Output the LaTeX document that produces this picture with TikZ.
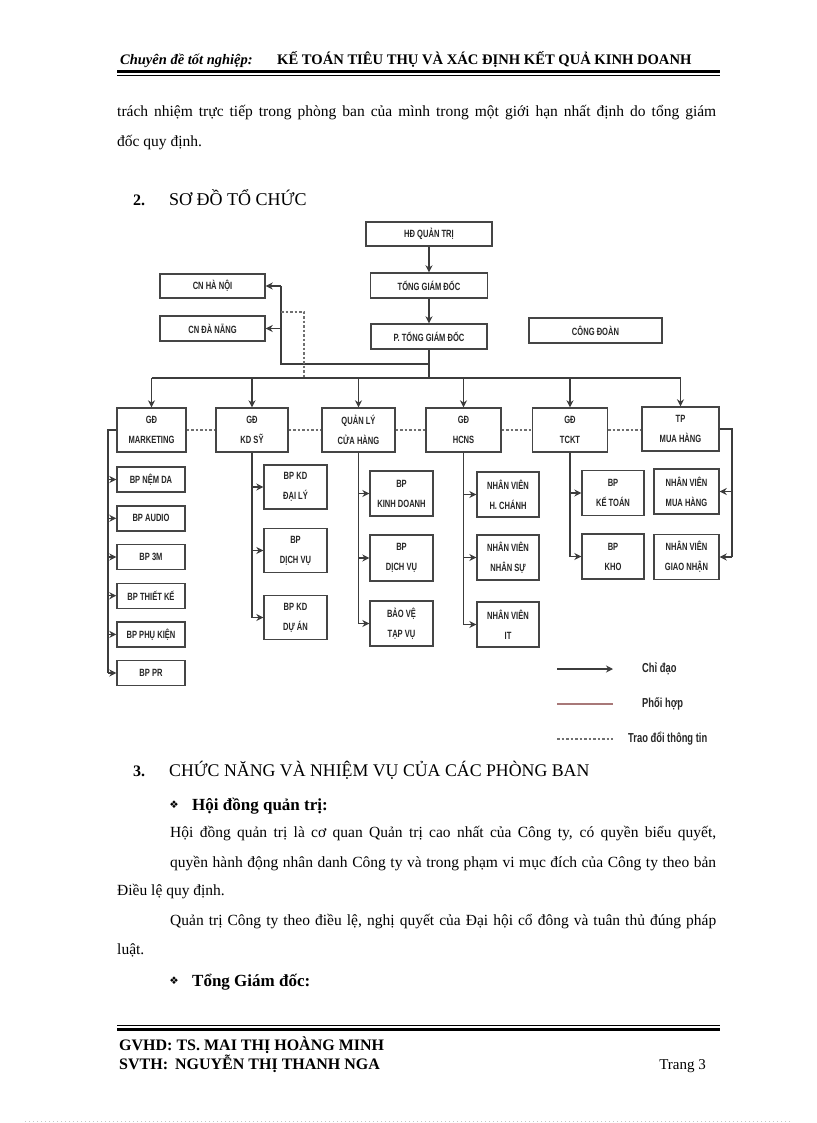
\documentclass[tikz,border=0pt]{standalone}
\usepackage{fontspec}
\setmainfont{Liberation Serif}
\newfontfamily\cf[FakeStretch=0.72]{Liberation Sans}
\newfontfamily\dv{DejaVu Sans}
\usetikzlibrary{arrows.meta}
\definecolor{ln}{HTML}{3C3C3C}
\definecolor{bx}{HTML}{454545}
\definecolor{ph}{HTML}{A87878}
\definecolor{dt}{HTML}{707070}
\begin{document}
\begin{tikzpicture}[x=1pt,y=-1pt,
  box/.style={draw=bx,line width=1.4pt,inner sep=0pt,align=center,text=black!85,font=\cf\bfseries\fontsize{10.5}{20}\selectfont},
  conn/.style={draw=ln,line width=1.2pt},
  arr/.style={conn,-{Stealth[length=7pt,width=7pt]}},
  dotl/.style={draw=dt,line width=1.1pt,dash pattern=on 2.5pt off 2pt},
  txt/.style={anchor=base west,inner sep=0pt,font=\fontsize{15.5}{18}\selectfont},
  leg/.style={anchor=west,inner sep=0pt,text=black!85,font=\cf\bfseries\fontsize{13}{15}\selectfont}]
\fill[white] (0,0) rectangle (816,1123);
\useasboundingbox (0,0) rectangle (816,1123);

% ---------- header ----------
\node[txt,font=\bfseries\itshape\fontsize{14.5}{16}\selectfont] (hdr1) at (120,65) {Chuyên đề tốt nghiệp:};
\node[txt,font=\bfseries\fontsize{14.6}{16}\selectfont] (hdr2) at (277,65) {KẾ TOÁN TIÊU THỤ VÀ XÁC ĐỊNH KẾT QUẢ KINH DOANH};
\draw[line width=3pt] (117,72) -- (720,72);
\draw[line width=0.8pt] (117,75.8) -- (720,75.8);

% ---------- top text ----------
\node[txt] (p1) at (117,117) {\makebox[599pt][s]{trách nhiệm trực tiếp trong phòng ban của mình trong một giới hạn nhất định do tổng giám}};
\node[txt] (p2) at (117,147) {đốc quy định.};

\node[txt,font=\bfseries\fontsize{16}{18}\selectfont] (s2n) at (133,206) {2.};
\node[txt,font=\fontsize{18}{20}\selectfont] (s2) at (169,206) {SƠ ĐỒ TỔ CHỨC};

% ---------- chart: top ----------
\node[box,minimum width=126pt,minimum height=24pt] (hd) at (429,234) {HĐ QUẢN TRỊ};
\node[box,minimum width=117pt,minimum height=25pt] (tgd) at (429,285.5) {TỔNG GIÁM ĐỐC};
\node[box,minimum width=116pt,minimum height=25pt] (ptgd) at (429,336.5) {P. TỔNG GIÁM ĐỐC};
\node[box,minimum width=105pt,minimum height=24pt] (cnhn) at (212.5,286) {CN HÀ NỘI};
\node[box,minimum width=105pt,minimum height=25pt] (cndn) at (212.5,328.5) {CN ĐÀ NẴNG};
\node[box,minimum width=133pt,minimum height=25pt] (cd) at (595.5,330.5) {CÔNG ĐOÀN};

\draw[arr] (hd.south) -- (hd.south |- tgd.north);
\draw[arr] (tgd.south) -- (tgd.south |- ptgd.north);

% ---------- chart: second level ----------
\node[box,minimum width=69pt,minimum height=44pt] (mkt) at (151.5,430) {GĐ\\MARKETING};
\node[box,minimum width=72pt,minimum height=44pt] (kds) at (252,430) {GĐ\\KD SỸ};
\node[box,minimum width=73pt,minimum height=44pt] (qlch) at (358.5,430) {QUẢN LÝ\\CỬA HÀNG};
\node[box,minimum width=75pt,minimum height=44pt] (hcns) at (463.5,430) {GĐ\\HCNS};
\node[box,minimum width=75pt,minimum height=44pt] (tckt) at (570,430) {GĐ\\TCKT};
\node[box,minimum width=77pt,minimum height=44pt] (tpmh) at (680.5,429) {TP\\MUA HÀNG};

\coordinate (bus) at (429,378);
\coordinate (br) at (429,364);
\coordinate (vl) at (281,364);
\draw[conn] (ptgd.south) -- (ptgd.south |- bus);
\draw[conn] (mkt.north |- bus) -- (tpmh.north |- bus);
\foreach \n in {mkt,kds,qlch,hcns,tckt,tpmh}
  \draw[arr] (\n.north |- bus) -- (\n.north);

\draw[conn] (br) -- (vl) -- (vl |- cnhn.east);
\draw[arr] (vl |- cnhn.east) -- (cnhn.east);
\draw[arr] (vl |- cndn.east) -- (cndn.east);

\coordinate (dA) at (281,312);
\coordinate (dB) at (304,312);
\draw[dotl] (dA) -- (dB) -- (dB |- bus);

\draw[dotl] (mkt.east) -- (kds.west);
\draw[dotl] (kds.east) -- (qlch.west);
\draw[dotl] (qlch.east) -- (hcns.west);
\draw[dotl] (hcns.east) -- (tckt.west);
\draw[dotl] (tckt.east) -- (tckt.east -| tpmh.west);

% ---------- marketing children ----------
\node[box,minimum width=68pt,minimum height=25pt] (m1) at (151,479.5) {BP NỆM DA};
\node[box,minimum width=68pt,minimum height=25pt] (m2) at (151,518.3) {BP AUDIO};
\node[box,minimum width=68pt,minimum height=25pt] (m3) at (151,557) {BP 3M};
\node[box,minimum width=68pt,minimum height=25pt] (m4) at (151,595.7) {BP THIẾT KẾ};
\node[box,minimum width=68pt,minimum height=25pt] (m5) at (151,634.4) {BP PHỤ KIỆN};
\node[box,minimum width=68pt,minimum height=25pt] (m6) at (151,673) {BP PR};
\coordinate (mx) at (108,430);
\draw[conn] (mkt.west) -- (mx) -- (mx |- m6.west);
\foreach \n in {m1,m2,m3,m4,m5,m6}
  \draw[arr] (mx |- \n.west) -- (\n.west);

% ---------- KD SY children ----------
\node[box,minimum width=63pt,minimum height=44pt] (k1) at (295.5,487) {BP KD\\ĐẠI LÝ};
\node[box,minimum width=63pt,minimum height=44pt] (k2) at (295.5,550.5) {BP\\DỊCH VỤ};
\node[box,minimum width=63pt,minimum height=44pt] (k3) at (295.5,617.5) {BP KD\\DỰ ÁN};
\draw[conn] (kds.south) -- (kds.south |- k3.west);
\foreach \n in {k1,k2,k3}
  \draw[arr] (kds.south |- \n.west) -- (\n.west);

% ---------- QLCH children ----------
\node[box,minimum width=63pt,minimum height=45pt] (q1) at (401.5,493.5) {BP\\KINH DOANH};
\node[box,minimum width=63pt,minimum height=46pt] (q2) at (401.5,558) {BP\\DỊCH VỤ};
\node[box,minimum width=63pt,minimum height=45pt] (q3) at (401.5,623.5) {BẢO VỆ\\TẠP VỤ};
\draw[conn] (qlch.south) -- (qlch.south |- q3.west);
\foreach \n in {q1,q2,q3}
  \draw[arr] (qlch.south |- \n.west) -- (\n.west);

% ---------- HCNS children ----------
\node[box,minimum width=62pt,minimum height=45pt] (h1) at (508,494.5) {NHÂN VIÊN\\H. CHÁNH};
\node[box,minimum width=62pt,minimum height=45pt] (h2) at (508,557.5) {NHÂN VIÊN\\NHÂN SỰ};
\node[box,minimum width=62pt,minimum height=45pt] (h3) at (508,624.5) {NHÂN VIÊN\\IT};
\draw[conn] (hcns.south) -- (hcns.south |- h3.west);
\foreach \n in {h1,h2,h3}
  \draw[arr] (hcns.south |- \n.west) -- (\n.west);

% ---------- TCKT children ----------
\node[box,minimum width=62pt,minimum height=45pt] (t1) at (613,493) {BP\\KẾ TOÁN};
\node[box,minimum width=62pt,minimum height=45pt] (t2) at (613,556.5) {BP\\KHO};
\draw[conn] (tckt.south) -- (tckt.south |- t2.west);
\foreach \n in {t1,t2}
  \draw[arr] (tckt.south |- \n.west) -- (\n.west);

% ---------- Mua hang children ----------
\node[box,minimum width=65pt,minimum height=45pt] (u1) at (686.5,491.5) {NHÂN VIÊN\\MUA HÀNG};
\node[box,minimum width=65pt,minimum height=45pt] (u2) at (686.5,557) {NHÂN VIÊN\\GIAO NHẬN};
\coordinate (px) at (732,429);
\draw[conn] (tpmh.east) -- (px) -- (px |- u2.east);
\foreach \n in {u1,u2}
  \draw[arr] (px |- \n.east) -- (\n.east);

% ---------- legend ----------
\coordinate (l1a) at (557,669); \coordinate (l1b) at (613,669);
\coordinate (l2a) at (557,704); \coordinate (l2b) at (613,704);
\coordinate (l3a) at (557,739); \coordinate (l3b) at (613,739);
\draw[arr,line width=1.5pt] (l1a) -- (l1b);
\draw[draw=ph,line width=1.3pt] (l2a) -- (l2b);
\draw[dotl] (l3a) -- (l3b);
\node[leg] (l1t) at (642,669) {Chỉ đạo};
\node[leg] (l2t) at (642,704) {Phối hợp};
\node[leg] (l3t) at (628,739) {Trao đổi thông tin};

% ---------- section 3 ----------
\node[txt,font=\bfseries\fontsize{16}{18}\selectfont] (s3n) at (133,776) {3.};
\node[txt,font=\fontsize{17.8}{20}\selectfont] (s3) at (169,776) {CHỨC NĂNG VÀ NHIỆM VỤ CỦA CÁC PHÒNG BAN};
\node[inner sep=0pt,font=\dv\fontsize{10.5}{12}\selectfont] (b1) at (174,805) {❖};
\node[txt,font=\bfseries\fontsize{17}{19}\selectfont] (h1t) at (192,810) {Hội đồng quản trị:};
\node[txt] (q1l) at (170,837) {\makebox[546pt][s]{Hội đồng quản trị là cơ quan Quản trị cao nhất của Công ty, có quyền biểu quyết,}};
\node[txt] (q2l) at (170,867) {\makebox[546pt][s]{quyền hành động nhân danh Công ty và trong phạm vi mục đích của Công ty theo bản}};
\node[txt] (q3l) at (117,895) {Điều lệ quy định.};
\node[txt] (q4l) at (170,925) {\makebox[546pt][s]{Quản trị Công ty theo điều lệ, nghị quyết của Đại hội cổ đông và tuân thủ đúng pháp}};
\node[txt] (q5l) at (117,954) {luật.};
\node[inner sep=0pt,font=\dv\fontsize{10.5}{12}\selectfont] (b2) at (174,981) {❖};
\node[txt,font=\bfseries\fontsize{17}{19}\selectfont] (h2t) at (192,986) {Tổng Giám đốc:};

% ---------- footer ----------
\draw[line width=0.8pt] (117,1025) -- (720,1025);
\draw[line width=3pt] (117,1029) -- (720,1029);
\node[txt,font=\bfseries\fontsize{16}{17}\selectfont] (f1) at (119,1050) {GVHD: TS. MAI THỊ HOÀNG MINH};
\node[txt,font=\bfseries\fontsize{16}{17}\selectfont] (f2) at (119,1069) {SVTH:\hspace{7pt}NGUYỄN THỊ THANH NGA};
\node[anchor=base east,inner sep=0pt,font=\fontsize{15}{17}\selectfont] (f3) at (706,1069) {Trang 3};
\draw[gray!45,line width=0.6pt,dash pattern=on 1pt off 3pt] (25,1121) -- (790,1121);
\end{tikzpicture}
\end{document}
